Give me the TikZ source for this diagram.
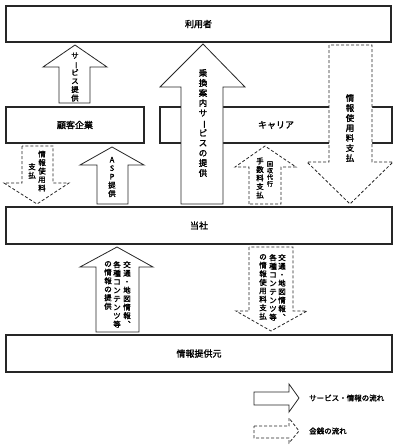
\documentclass[tikz,border=0pt]{standalone}
\usepackage{fontspec}
\newfontfamily\jp{Noto Sans CJK JP}[FakeBold=1.6]
\newcommand{\vb}{\rotatebox[origin=c]{-90}{ー}}
\begin{document}
\begin{tikzpicture}[x=1pt,y=-1pt,
  box/.style={draw=black!85, line width=1.1pt, fill=white, inner sep=0pt, font=\jp\fontsize{9}{10}\selectfont},
  sarrow/.style={draw=black!85, line width=0.8pt, fill=white, line join=miter},
  darrow/.style={draw=black!85, line width=0.8pt, fill=white, dash pattern=on 3pt off 2pt},
  vt/.style={align=center, inner sep=0pt, font=\jp\fontsize{7.5}{8.5}\selectfont},
  vtb/.style={align=center, inner sep=0pt, font=\jp\fontsize{8.5}{10}\selectfont},
  vts/.style={align=center, inner sep=0pt, font=\jp\fontsize{6}{6.6}\selectfont},
  lbl/.style={inner sep=0pt, anchor=west, font=\jp\fontsize{7.5}{9}\selectfont}]
\useasboundingbox (0,0) rectangle (398,448);

% boxes
\node[box, minimum width=385pt, minimum height=36pt] (user) at (198.5,24) {利用者};
\node[box, minimum width=138pt, minimum height=36pt] (client) at (75,125) {顧客企業};
\node[box, minimum width=232pt, minimum height=36pt] (carrier) at (276,125) {キャリア};
\node[box, minimum width=386pt, minimum height=37pt] (us) at (199,225.5) {当社};
\node[box, minimum width=386pt, minimum height=37pt] (prov) at (199,353.5) {情報提供元};

% A1 サービス提供 (solid up)
\draw[sarrow] (59,103) -- (59,67) -- (43,67) -- (75,45) -- (107,67) -- (90,67) -- (90,103) -- cycle;
\node[vt] (t1) at (75,77) {サ\\\vb\\ビ\\ス\\提\\供};

% A2 乗換案内サービスの提供 (solid up)
\draw[sarrow] (181,204) -- (181,87) -- (160,87) -- (203,44) -- (245,87) -- (223,87) -- (223,204) -- cycle;
\node[vtb] (t2) at (203,123) {乗\\換\\案\\内\\サ\\\vb\\ビ\\ス\\の\\提\\供};

% A3 情報使用料支払 (dashed down, large)
\draw[darrow] (329,45) -- (329,162) -- (307,162) -- (350,204) -- (393,162) -- (372,162) -- (372,45) -- cycle;
\node[vtb] (t3) at (350,128) {情\\報\\使\\用\\料\\支\\払};

% A4 回収代行手数料支払 (dashed up)
\draw[darrow] (249,204) -- (249,167) -- (235,167) -- (265,146) -- (296,167) -- (281,167) -- (281,204) -- cycle;
\node[vts] (t4a) at (270,174) {回\\収\\代\\行};
\node[vt] (t4b) at (260,178) {手\\数\\料\\支\\払};

% A5 情報使用料支払 (dashed down, left)
\draw[darrow] (22,146) -- (22,183) -- (4,183) -- (37,204) -- (69,183) -- (53,183) -- (53,146) -- cycle;
\node[vt] (t5a) at (42,171) {情\\報\\使\\用\\料};
\node[vt] (t5b) at (32,171) {支\\払};

% A6 ASP提供 (solid up)
\draw[sarrow] (97,204) -- (97,165) -- (80,165) -- (112,147) -- (144,165) -- (128,165) -- (128,204) -- cycle;
\node[vt] (t6) at (112,177) {A\\S\\P\\提\\供};

% A7 bottom left (solid up)
\draw[sarrow] (96,332) -- (96,267) -- (80,267) -- (117,247) -- (153,267) -- (139,267) -- (139,332) -- cycle;
\node[vt, anchor=north] (t7a) at (127,261) {交\\通\\・\\地\\図\\情\\報\\︑};
\node[vt, anchor=north] (t7b) at (117,261) {各\\種\\コ\\ン\\テ\\ン\\ツ\\等};
\node[vt, anchor=north] (t7c) at (108,261) {の\\情\\報\\の\\提\\供};

% A8 bottom right (dashed down)
\draw[darrow] (249,247) -- (249,311) -- (236,311) -- (271,331) -- (307,311) -- (293,311) -- (293,247) -- cycle;
\node[vt, anchor=north] (t8a) at (282,254) {交\\通\\・\\地\\図\\情\\報\\︑};
\node[vt, anchor=north] (t8b) at (273,254) {各\\種\\コ\\ン\\テ\\ン\\ツ\\等};
\node[vt, anchor=north] (t8c) at (263,254) {の\\情\\報\\使\\用\\料\\支\\払};

% legend
\draw[sarrow] (254,392) -- (289,392) -- (289,384) -- (299,398) -- (289,412) -- (289,405) -- (254,405) -- cycle;
\node[lbl] (l1) at (309,398) {サービス・情報の流れ};
\draw[darrow] (254,426) -- (289,426) -- (289,418) -- (299,431) -- (289,443) -- (289,438) -- (254,438) -- cycle;
\node[lbl] (l2) at (309,431) {金銭の流れ};
\end{tikzpicture}
\end{document}
